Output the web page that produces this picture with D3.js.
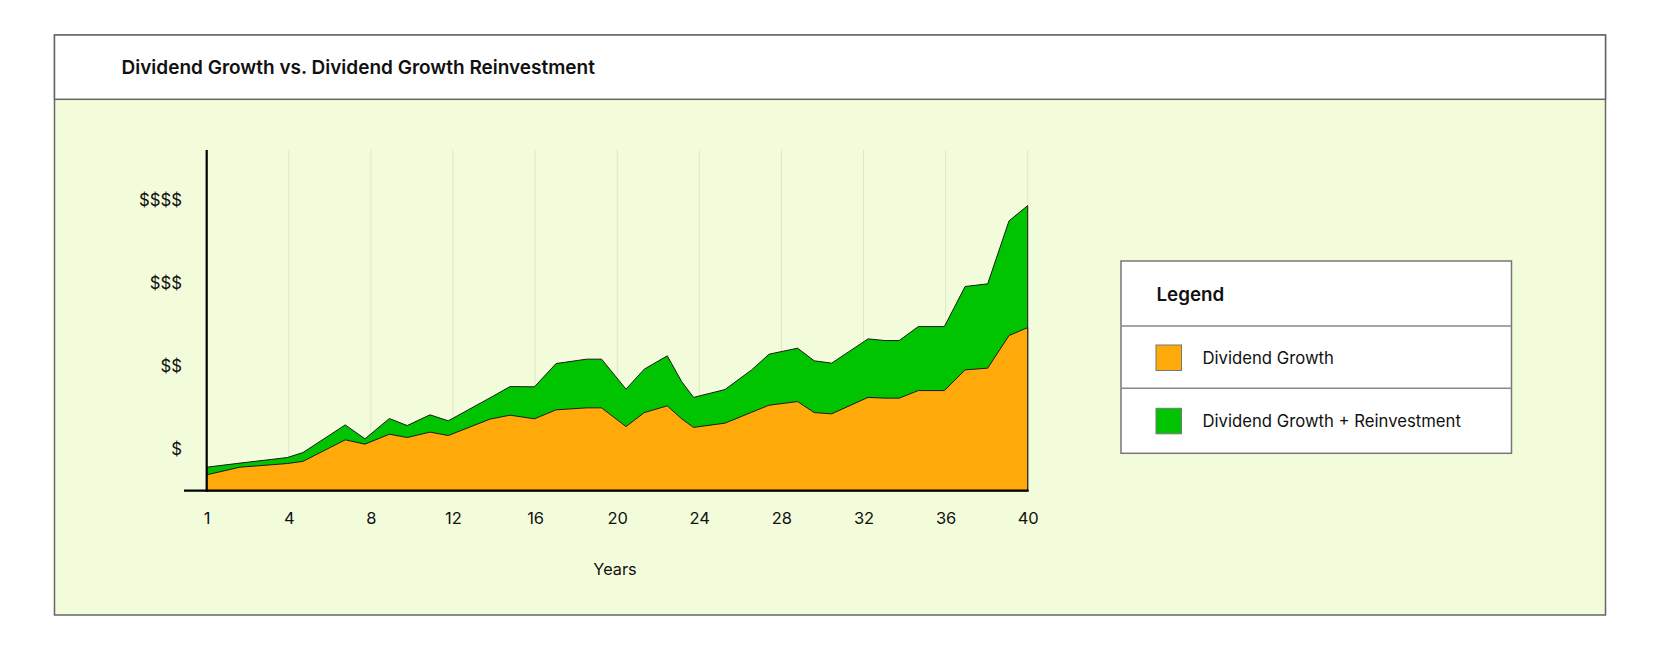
<!DOCTYPE html>
<html>
<head>
<meta charset="utf-8">
<script src="https://cdn.jsdelivr.net/npm/d3@7"></script>
<style>
  html, body { margin: 0; padding: 0; background: #ffffff; }
  svg { display: block; font-family: Inter, "Noto Sans", sans-serif; }
</style>
</head>
<body>
<svg id="chart" width="1660" height="650"></svg>
<script>
// ---- data (years on a 0..40 axis, where tick 0 is labelled "1") ----
const years = [0, 1.62, 3.93, 4.69, 6.75, 7.71, 8.90, 9.77, 10.88, 11.77, 13.80, 14.78, 15.97, 17.02, 18.51, 19.24,
  20.43, 21.32, 22.44, 23.14, 23.72, 25.25, 26.55, 27.40, 28.79, 29.60, 30.45, 32.22, 33.05, 33.74, 34.67, 35.94,
  36.95, 38.05, 39.09, 40];
const dividendGrowth = [0.691, 0.783, 0.827, 0.853, 1.112, 1.060, 1.180, 1.140, 1.205, 1.164, 1.361, 1.409, 1.365, 1.473, 1.497, 1.497,
  1.272, 1.440, 1.521, 1.365, 1.262, 1.313, 1.444, 1.529, 1.573, 1.440, 1.425, 1.623, 1.614, 1.614, 1.705, 1.705,
  1.954, 1.975, 2.367, 2.463];
const growthPlusReinvest = [0.783, 0.832, 0.899, 0.959, 1.292, 1.124, 1.368, 1.284, 1.413, 1.341, 1.617, 1.753, 1.750, 2.030, 2.083, 2.083,
  1.722, 1.963, 2.123, 1.813, 1.623, 1.717, 1.954, 2.143, 2.215, 2.063, 2.035, 2.327, 2.307, 2.307, 2.475, 2.475,
  2.957, 2.989, 3.747, 3.931];
const xTickValues = [0, 4, 8, 12, 16, 20, 24, 28, 32, 36, 40];
const xTickLabels = ["1", "4", "8", "12", "16", "20", "24", "28", "32", "36", "40"];
const yTickValues = [1, 2, 3, 4];
const yTickLabels = ["$", "$$", "$$$", "$$$$"];
const seriesNames = ["Dividend Growth", "Dividend Growth + Reinvestment"];
const seriesColors = ["#FFA90A", "#00C400"];
const title = "Dividend Growth vs. Dividend Growth Reinvestment";

const svg = d3.select("#chart");

// ---- frame ----
svg.append("rect").attr("x", 54.5).attr("y", 35).attr("width", 1551).attr("height", 580)
  .attr("fill", "#F3FCDA").attr("stroke", "#666").attr("stroke-width", 1.5);
svg.append("rect").attr("x", 54.5).attr("y", 35).attr("width", 1551).attr("height", 64.3)
  .attr("fill", "#ffffff").attr("stroke", "#666").attr("stroke-width", 1.5);
svg.append("text").attr("x", 121.5).attr("y", 67).attr("dominant-baseline", "central")
  .attr("font-size", 19).attr("font-weight", 600).attr("fill", "#111").text(title);

// ---- scales ----
const x = d3.scaleLinear().domain([0, 40]).range([206.7, 1027.7]);
const y = d3.scaleLinear().domain([0.5, 4.6]).range([490.7, 150]);

// gridlines
svg.append("g").selectAll("line").data(xTickValues.slice(1)).join("line")
  .attr("x1", d => x(d)).attr("x2", d => x(d)).attr("y1", y(4.6)).attr("y2", y(0.5))
  .attr("stroke", "#E3E5C2").attr("stroke-width", 1);

// areas
const rows = years.map((t, i) => ({ t, a: dividendGrowth[i], b: growthPlusReinvest[i] }));
const areaB = d3.area().x(d => x(d.t)).y0(y(0.5)).y1(d => y(d.b));
const areaA = d3.area().x(d => x(d.t)).y0(y(0.5)).y1(d => y(d.a));
svg.append("path").datum(rows).attr("d", areaB).attr("fill", seriesColors[1])
  .attr("stroke", "#1a1a1a").attr("stroke-width", 1).attr("stroke-linejoin", "miter");
svg.append("path").datum(rows).attr("d", areaA).attr("fill", seriesColors[0])
  .attr("stroke", "#1a1a1a").attr("stroke-width", 1).attr("stroke-linejoin", "miter");

// axes
const xAxis = d3.axisBottom(x).tickValues(xTickValues).tickFormat((d, i) => xTickLabels[i]).tickSize(0).tickPadding(22);
const gx = svg.append("g").attr("transform", `translate(0,${y(0.5)})`).call(xAxis);
gx.select(".domain").remove();
gx.selectAll("text").attr("font-size", 16.5).attr("fill", "#111").attr("font-family", "Inter, sans-serif");
svg.append("line").attr("x1", 184).attr("x2", x(40) + 1).attr("y1", y(0.5)).attr("y2", y(0.5))
  .attr("stroke", "#000").attr("stroke-width", 2.2);

const yAxis = d3.axisLeft(y).tickValues(yTickValues).tickFormat((d, i) => yTickLabels[i]).tickSize(0).tickPadding(24.7);
const gy = svg.append("g").attr("transform", `translate(${x(0)},0)`).call(yAxis);
gy.select(".domain").remove();
gy.selectAll("text").attr("font-size", 16.8).attr("fill", "#111").attr("font-family", "Inter, sans-serif");
svg.append("line").attr("x1", x(0)).attr("x2", x(0)).attr("y1", y(4.6)).attr("y2", y(0.5) + 1)
  .attr("stroke", "#000").attr("stroke-width", 2.2);

svg.append("text").attr("x", 615).attr("y", 568.5).attr("text-anchor", "middle").attr("dominant-baseline", "central")
  .attr("font-size", 16.3).attr("fill", "#111").text("Years");

// ---- legend ----
const lg = svg.append("g");
lg.append("rect").attr("x", 1121).attr("y", 261).attr("width", 390.5).attr("height", 192.3)
  .attr("fill", "#fff").attr("stroke", "#777").attr("stroke-width", 1.5);
[326, 388.3].forEach(yy => lg.append("line").attr("x1", 1121).attr("x2", 1511.5).attr("y1", yy).attr("y2", yy)
  .attr("stroke", "#888").attr("stroke-width", 1.5));
lg.append("text").attr("x", 1156.5).attr("y", 294).attr("dominant-baseline", "central")
  .attr("font-size", 18.8).attr("font-weight", 600).attr("fill", "#111").text("Legend");
const legendRows = [358, 421.3];
seriesNames.forEach((name, i) => {
  lg.append("rect").attr("x", 1156).attr("y", legendRows[i] - 13).attr("width", 25.5).attr("height", 25.5)
    .attr("fill", seriesColors[i]).attr("stroke", "#777").attr("stroke-width", 1);
  lg.append("text").attr("x", 1202.5).attr("y", legendRows[i]).attr("dominant-baseline", "central")
    .attr("font-size", 16.7).attr("fill", "#111").text(name);
});
</script>
</body>
</html>
